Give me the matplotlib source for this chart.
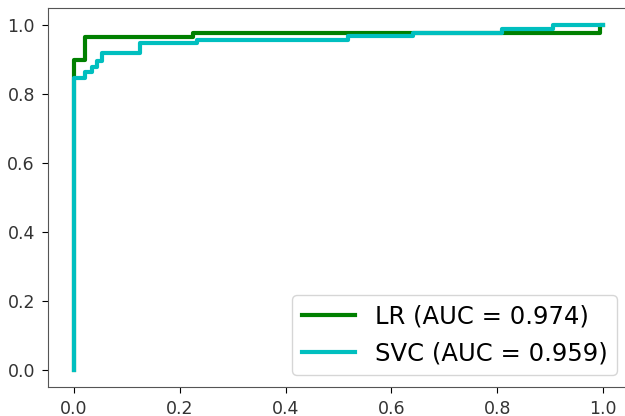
import matplotlib
matplotlib.use('Agg')
import matplotlib.pyplot as plt

# ROC curve points
lr_fpr = [0.0, 0.0, 0.021, 0.021, 0.225, 0.225, 0.994, 0.994, 1.0]
lr_tpr = [0.0, 0.90, 0.90, 0.966, 0.966, 0.977, 0.977, 1.0, 1.0]

svc_fpr = [0.0, 0.0, 0.021, 0.021, 0.034, 0.034, 0.043, 0.043, 0.053, 0.053,
           0.125, 0.125, 0.233, 0.233, 0.518, 0.518, 0.641, 0.641, 0.809, 0.809,
           0.905, 0.905, 1.0]
svc_tpr = [0.0, 0.846, 0.846, 0.863, 0.863, 0.878, 0.878, 0.895, 0.895, 0.92,
           0.92, 0.948, 0.948, 0.956, 0.956, 0.968, 0.968, 0.977, 0.977, 0.99,
           0.99, 1.0, 1.0]

lr_label = 'LR (AUC = 0.974)'
svc_label = 'SVC (AUC = 0.959)'

fig = plt.figure(figsize=(6.25, 4.16), dpi=100)
# the right edge of the axes runs past the picture, as in the reference
ax = fig.add_axes([47.5 / 625, 29 / 416, 582 / 625, 379 / 416])

ax.plot(lr_fpr, lr_tpr, color='g', linewidth=3, label=lr_label)
ax.plot(svc_fpr, svc_tpr, color='c', linewidth=3, label=svc_label)

ax.set_xlim(-0.05, 1.05)
ax.set_ylim(-0.05, 1.05)
ax.tick_params(labelsize=12.5, length=4.5, pad=4.5, labelcolor='#333333')
for sp in ax.spines.values():
    sp.set_color('#555555')
ax.legend(loc='lower right', fontsize=17.5, handlelength=2.2)

fig.savefig('out.png', dpi=100)
